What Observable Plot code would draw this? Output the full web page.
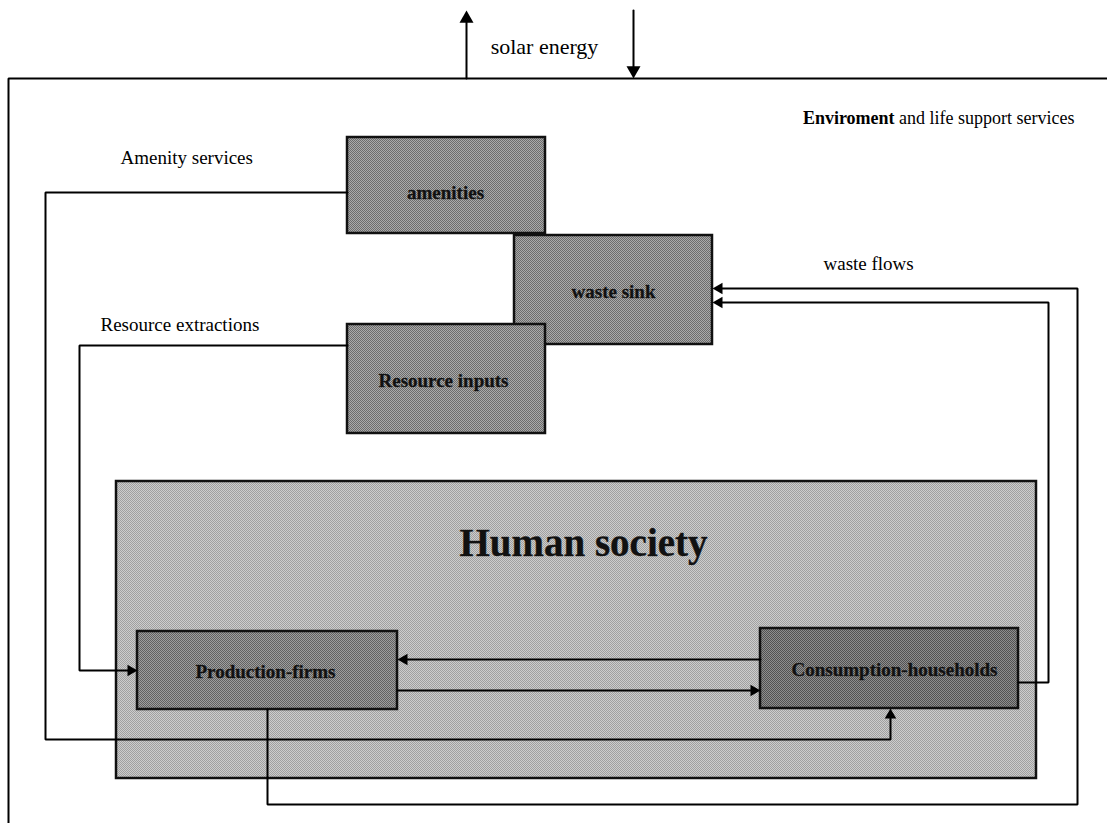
<!DOCTYPE html>
<html>
<head>
<meta charset="utf-8">
<script src="https://cdn.jsdelivr.net/npm/d3@7"></script>
<script src="https://cdn.jsdelivr.net/npm/@observablehq/plot@0.6"></script>
<style>
  html, body { margin: 0; padding: 0; background: #ffffff; }
  #chart svg { display: block; }
</style>
</head>
<body>
<div id="chart"></div>
<script>
// ---- Diagram data (page coordinates, y grows downward) ----
const boxNames  = ["Human society", "waste sink", "amenities", "Resource inputs", "Production-firms", "Consumption-households"];
const boxX1     = [116, 514, 347, 347, 137, 760];
const boxX2     = [1036, 712, 545, 545, 397, 1018];
const boxY1     = [481, 235, 137, 324, 631, 628];
const boxY2     = [778, 344, 233, 433, 709, 708];
const boxTone   = ["light", "mid", "mid", "mid", "dark", "darker"];
const boxLabelX = [583, 613, 445, 443, 265, 894];
const boxLabelY = [543, 291, 192, 380, 671, 669];
const boxLabelSize = [39, 19, 19, 19, 19, 19];

const flowNames = ["Amenity services", "Resource extractions", "consumption to production", "production to consumption",
                   "production waste", "household waste", "solar out", "solar in", "environment frame"];
const flowPoints = [
  [[347,192],[45,192],[45,739],[890,739],[890,708]],
  [[347,345],[79,345],[79,670],[137,670]],
  [[760,659],[397,659]],
  [[397,690],[760,690]],
  [[267,709],[267,804],[1077,804],[1077,288],[712,288]],
  [[1018,682],[1048,682],[1048,302],[712,302]],
  [[466,78],[466,10]],
  [[633,10],[633,78]],
  [[8,823],[8,78],[1107,78]]
];
const flowArrow = [true, true, true, true, true, true, true, true, false];
const flowHead  = [4.3, 4.3, 4.3, 4.3, 4.3, 4.3, 5.2, 5.2, 0];

const labelTexts = ["solar energy", "Amenity services", "Resource extractions", "waste flows"];
const labelX     = [544, 120, 100, 823];
const labelY     = [46, 157, 324, 263];
const labelAnchor= ["middle", "start", "start", "start"];
const labelSize  = [22, 19, 19, 19];

const envBold = "Enviroment";
const envRest = " and life support services";
const envRight = 1074, envY = 118, envSize = 18;

// ---- Build tables ----
const boxes = boxNames.map((name, i) => ({
  name, x1: boxX1[i], x2: boxX2[i], y1: boxY1[i], y2: boxY2[i],
  fill: `url(#tone-${boxTone[i]})`, lx: boxLabelX[i], ly: boxLabelY[i], size: boxLabelSize[i]
}));

const lineRows = [];
const heads = [];
flowPoints.forEach((pts, i) => {
  const p = pts.map(d => d.slice());
  if (flowArrow[i]) {
    const [x0, y0] = p[p.length - 2];
    const [x1, y1] = p[p.length - 1];
    const dx = x1 - x0, dy = y1 - y0, L = Math.hypot(dx, dy);
    const ux = dx / L, uy = dy / L;
    const r = flowHead[i];
    const off = 2 * Math.sqrt(Math.PI * r * r / (3 * Math.sqrt(3)));
    const cx = x1 - ux * off, cy = y1 - uy * off;
    heads.push({x: cx, y: cy, r, angle: Math.atan2(dx, -dy) * 180 / Math.PI});
    p[p.length - 1] = [cx, cy];
  }
  p.forEach(([x, y]) => lineRows.push({id: flowNames[i], x, y}));
});

const labels = labelTexts.map((t, i) => ({text: t, x: labelX[i], y: labelY[i], anchor: labelAnchor[i], size: labelSize[i]}));

// measure the regular part of the environment title to place the bold word
const ctx = document.createElement("canvas").getContext("2d");
ctx.font = `${envSize}px "Liberation Serif"`;
const restW = ctx.measureText(envRest).width;

const serif = "'Liberation Serif', 'Times New Roman', serif";

const marks = [
  Plot.rect(boxes, {x1: "x1", x2: "x2", y1: "y1", y2: "y2", fill: "fill", stroke: "#111", strokeWidth: 2.5}),
  Plot.line(lineRows, {x: "x", y: "y", z: "id", stroke: "#000", strokeWidth: 2, strokeLinejoin: "miter", curve: "linear"}),
  Plot.dot(heads.filter(h => h.r < 5), {x: "x", y: "y", rotate: "angle", symbol: "triangle", r: 4.3, fill: "#000", stroke: "none"}),
  Plot.dot(heads.filter(h => h.r >= 5), {x: "x", y: "y", rotate: "angle", symbol: "triangle", r: 5.2, fill: "#000", stroke: "none"})
];
boxes.forEach(b => {
  marks.push(Plot.text([b], {x: "lx", y: "ly", text: "name", fontSize: b.size, fontWeight: "bold",
    fontFamily: serif, fill: "#111", stroke: "#333", strokeWidth: 0.4, textAnchor: "middle"}));
});
labels.forEach(l => {
  marks.push(Plot.text([l], {x: "x", y: "y", text: "text", fontSize: l.size, fontFamily: serif,
    fill: "#000", textAnchor: l.anchor}));
});
marks.push(Plot.text([{t: envRest, x: envRight, y: envY}], {x: "x", y: "y", text: "t", fontSize: envSize,
  fontFamily: serif, fill: "#000", textAnchor: "end"}));
marks.push(Plot.text([{t: envBold, x: envRight - restW, y: envY}], {x: "x", y: "y", text: "t", fontSize: envSize,
  fontFamily: serif, fontWeight: "bold", fill: "#000", textAnchor: "end"}));

const svg = Plot.plot({
  width: 1107, height: 823, margin: 0,
  style: {background: "#ffffff", overflow: "visible"},
  x: {domain: [0, 1107], range: [0, 1107], axis: null},
  y: {domain: [0, 823], range: [0, 823], axis: null},
  color: {type: "identity"},
  marks
});

// dithered halftone fills
const ns = "http://www.w3.org/2000/svg";
const defs = document.createElementNS(ns, "defs");
const tones = {light: ["#a0a0a0", "#cdcdcd"], mid: ["#6c6c6c", "#aaaaaa"], dark: ["#626262", "#9e9e9e"], darker: ["#525252", "#8e8e8e"]};
for (const [k, [a, b]] of Object.entries(tones)) {
  const pat = document.createElementNS(ns, "pattern");
  pat.setAttribute("id", `tone-${k}`);
  pat.setAttribute("patternUnits", "userSpaceOnUse");
  pat.setAttribute("width", 2); pat.setAttribute("height", 2);
  const r0 = document.createElementNS(ns, "rect");
  r0.setAttribute("width", 2); r0.setAttribute("height", 2); r0.setAttribute("fill", b);
  pat.appendChild(r0);
  for (const [x, y] of [[0, 0], [1, 1]]) {
    const r = document.createElementNS(ns, "rect");
    r.setAttribute("x", x); r.setAttribute("y", y); r.setAttribute("width", 1); r.setAttribute("height", 1); r.setAttribute("fill", a);
    pat.appendChild(r);
  }
  defs.appendChild(pat);
}
svg.insertBefore(defs, svg.firstChild);
document.getElementById("chart").appendChild(svg);
</script>
</body>
</html>
